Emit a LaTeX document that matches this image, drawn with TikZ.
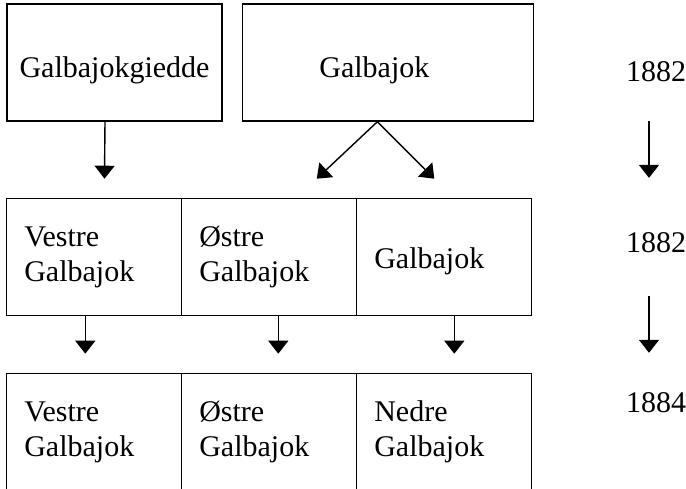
\documentclass[tikz,border=0pt]{standalone}
\usepackage{fontspec}
\setmainfont{Liberation Serif}
\usetikzlibrary{arrows.meta, positioning}

\begin{document}
\begin{tikzpicture}[
    x=0.5pt, y=-0.5pt,
    font=\fontsize{15}{17.5}\selectfont,
    topbox/.style={draw, line width=0.7pt, minimum width=107.5pt,
                   minimum height=58.5pt, inner sep=0pt,
                   text height=17.8pt, text depth=3.3pt},
    cellbox/.style={draw, line width=0.7pt, minimum width=87.5pt,
                    minimum height=58.5pt, text width=69.5pt, align=left,
                    inner xsep=9pt, inner ysep=0pt, outer sep=0pt},
    yearst/.style={inner sep=0pt},
    arr/.style={-{Triangle[width=10pt,length=6.5pt]}, line width=0.7pt},
  ]
  \useasboundingbox (0,0) rectangle (686,488);
  %% Top row
  \node[topbox] (gied) at (114.5,62.5) {Galbajokgiedde};
  \node[topbox, minimum width=145.5pt, text width=68.5pt, align=left,
        inner xsep=38.5pt, right=9.5pt of gied] (galb) {Galbajok};
  %% Middle row
  \node[cellbox, below=38.5pt of gied.south west, anchor=north west] (vestre) {Vestre\\Galbajok};
  \node[cellbox, right=0pt of vestre] (ostre) {Østre\\Galbajok};
  \node[cellbox, right=0pt of ostre, text height=14.8pt, text depth=3.3pt] (galbm) {Galbajok};
  %% Bottom row
  \node[cellbox, below=29pt of vestre] (vestreb) {Vestre\\Galbajok};
  \node[cellbox, right=0pt of vestreb] (ostreb) {Østre\\Galbajok};
  \node[cellbox, right=0pt of ostreb] (nedre) {Nedre\\Galbajok};
  %% Years
  \node[yearst] (yr1) at (656,71.5) {1882};
  \node[yearst] (yr2) at (656,243) {1882};
  \node[yearst] (yr3) at (656,402.5) {1884};
  %% Arrows
  \draw[arr, shorten >=10pt] ([xshift=-4.75pt]gied.south) -- ([xshift=5.25pt]vestre.north);
  \draw[arr] ([xshift=-5.25pt]galb.south) -- ([shift={(24pt,10pt)}]ostre.north);
  \draw[arr] ([xshift=-5.25pt]galb.south) -- ([shift={(-4.75pt,10pt)}]galbm.north);
  \draw[arr, shorten >=10pt] ([xshift=-4.25pt]vestre.south) -- ([xshift=-4.25pt]vestreb.north);
  \draw[arr, shorten >=10pt] ([xshift=4.75pt]ostre.south) -- ([xshift=4.75pt]ostreb.north);
  \draw[arr, shorten >=10pt] ([xshift=5.25pt]galbm.south) -- ([xshift=5.25pt]nedre.north);
  \draw[arr, shorten <=19.5pt, shorten >=27.3pt] ([xshift=-3.5pt]yr1.south) -- ([xshift=-3.5pt]yr2.north);
  \draw[arr, shorten <=21.3pt, shorten >=19.6pt] ([xshift=-3.5pt]yr2.south) -- ([xshift=-3.5pt]yr3.north);
\end{tikzpicture}
\end{document}
